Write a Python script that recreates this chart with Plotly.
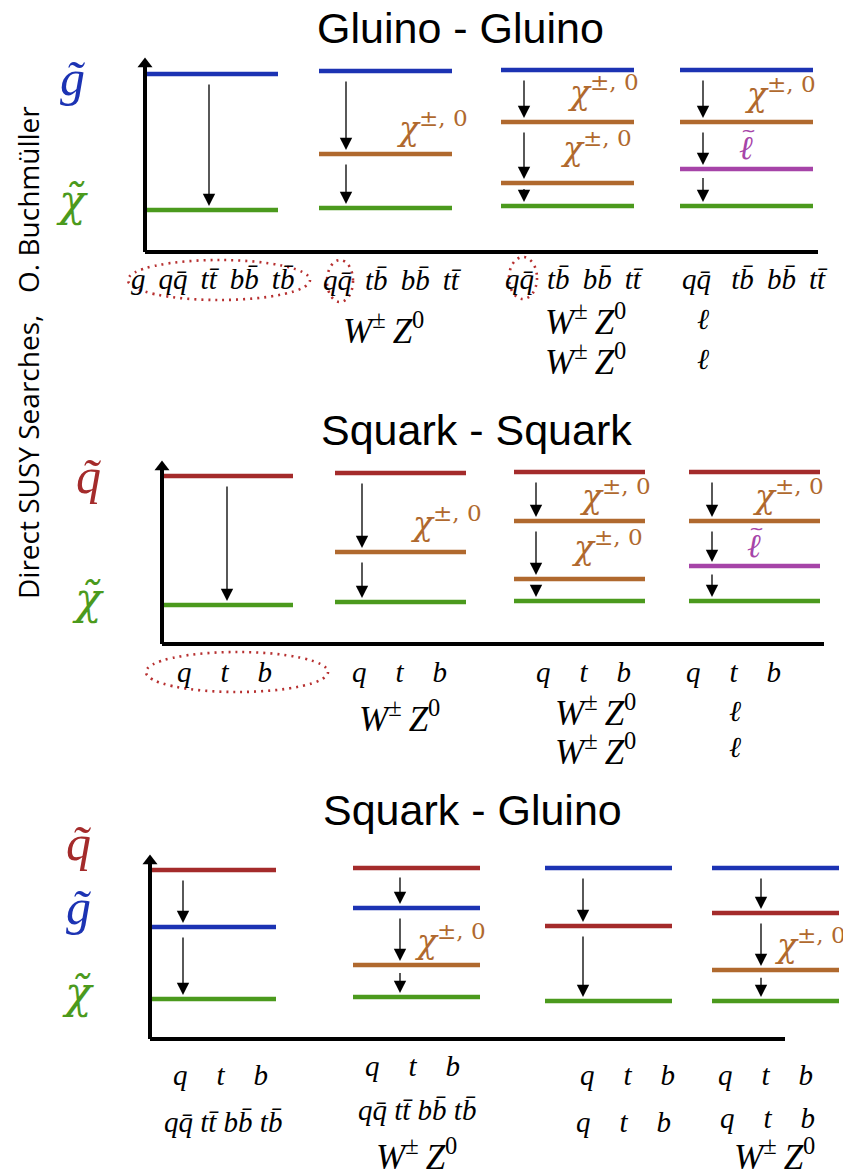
import plotly.graph_objects as go

W, H = 843, 1175

# ---------------- data ----------------
panel_titles = ["Gluino - Gluino", "Squark - Squark", "Squark - Gluino"]

# states in each decay-chain column (top -> bottom) and their mass level
# (height above the panel's horizontal axis, arbitrary units)
gg_states = [["gluino", "lsp"],
             ["gluino", "chi", "lsp"],
             ["gluino", "chi", "chi", "lsp"],
             ["gluino", "chi", "slepton", "lsp"]]
gg_masses = [[178, 42], [181, 98, 44], [182, 130, 69, 46], [182, 130, 83, 46]]

sq_states = [["squark", "lsp"],
             ["squark", "chi", "lsp"],
             ["squark", "chi", "chi", "lsp"],
             ["squark", "chi", "slepton", "lsp"]]
sq_masses = [[168, 39], [171, 92, 42], [172, 123, 65, 43], [172, 123, 78, 43]]

sg_states = [["squark", "gluino", "lsp"],
             ["squark", "gluino", "chi", "lsp"],
             ["gluino", "squark", "lsp"],
             ["gluino", "squark", "chi", "lsp"]]
sg_masses = [[169, 112, 40], [171, 131, 74, 42], [171, 113, 38], [171, 126, 69, 38]]

# axis particle labels per panel
gg_axis_labels = ["gluino", "lsp"]
sq_axis_labels = ["squark", "lsp"]
sg_axis_labels = ["squark", "gluino", "lsp"]

# final-state text under every column
Q, T, B = "q\u0304", "t\u0304", "b\u0304"
S = " \u2009"
WZ = "WZ"
gg_final = [[f"g{S}q{Q}{S}t{T}{S}b{B}{S}t{B}"],
            [f"q{Q}{S}t{B}{S}b{B}{S}t{T}", WZ],
            [f"q{Q}{S}t{B}{S}b{B}{S}t{T}", WZ, WZ],
            [f"q{Q}{S} t{B}{S}b{B}{S}t{T}", "ℓ", "ℓ"]]
sq_final = [["q    t    b"],
            ["q    t    b", WZ],
            ["q    t    b", WZ, WZ],
            ["q    t    b", "ℓ", "ℓ"]]
sg_final = [["q    t    b", f"q{Q} t{T} b{B} t{B}"],
            ["q    t    b", f"q{Q} t{T} b{B} t{B}", WZ],
            ["q    t    b", "q    t    b"],
            ["q    t    b", "q    t    b", WZ]]

# ---------------- styles ----------------
COL = {"gluino": "#1c33b3", "squark": "#a42b2b", "chi": "#b0692e",
       "slepton": "#a644a8", "lsp": "#4b9a1d"}
SYM = {"gluino": "<i>g\u0303</i>", "squark": "<i>q\u0303</i>", "lsp": "<i>χ\u0303</i>",
       "chi": "<i>χ</i><sup>±, 0</sup>", "slepton": "<i>ℓ</i>"}
SYM_FONT = {"gluino": "Liberation Serif", "squark": "Liberation Serif",
            "lsp": "DejaVu Serif", "chi": "DejaVu Serif", "slepton": "DejaVu Serif"}
SYM_SIZE = {"gluino": 50, "squark": 50, "lsp": 44}
SERIF = "Liberation Serif"
WZ_HTML = "<i>W</i><sup>±</sup>\u2009<i>Z</i><sup>0</sup>"

panels = [
    dict(title=panel_titles[0], states=gg_states, masses=gg_masses, final=gg_final,
         axis_labels=gg_axis_labels, base=252, px0=0, px1=390,
         yaxis_x=145, yaxis_top=57, xaxis_end=818, title_pos=(460, 28),
         col_left=[145, 319, 501, 680], col_w=133, arrow_x=[209, 346, 524, 703],
         label_pos=[(72, 78), (72, 200)],
         level_labels=[(1, 1, 432, 126), (2, 1, 603, 90), (2, 2, 596, 146),
                       (3, 1, 780, 92), (3, 2, 746, 147)],
         final_pos=[[(212, 279)], [(392, 280), (383, 328)],
                    [(574, 279), (585, 319), (585, 359)],
                    [(755, 279), (703, 319), (703, 359)]],
         ellipses=[(219, 280, 91, 20), (340, 281, 13, 21), (523, 278, 14, 21)]),
    dict(title=panel_titles[1], states=sq_states, masses=sq_masses, final=sq_final,
         axis_labels=sq_axis_labels, base=644, px0=390, px1=790,
         yaxis_x=162, yaxis_top=460, xaxis_end=824, title_pos=(476, 430),
         col_left=[162, 335, 514, 689], col_w=131, arrow_x=[227, 362, 536, 712],
         label_pos=[(88, 476), (88, 598)],
         level_labels=[(1, 1, 446, 521), (2, 1, 615, 494), (2, 2, 607, 545),
                       (3, 1, 788, 494), (3, 2, 754, 545)],
         final_pos=[[(224, 672)], [(399, 672), (399, 716)],
                    [(583, 672), (595, 710), (595, 749)],
                    [(733, 672), (735, 711), (735, 747)]],
         ellipses=[(237, 672, 91, 20)]),
    dict(title=panel_titles[2], states=sg_states, masses=sg_masses, final=sg_final,
         axis_labels=sg_axis_labels, base=1039, px0=790, px1=1175,
         yaxis_x=150, yaxis_top=854, xaxis_end=785, title_pos=(472, 810),
         col_left=[149, 353, 545, 712], col_w=127, arrow_x=[183, 400, 583, 761],
         label_pos=[(78, 843), (78, 907), (78, 992)],
         level_labels=[(1, 2, 450, 939), (3, 2, 810, 943)],
         final_pos=[[(220, 1075), (223, 1122)],
                    [(412, 1066), (417, 1110), (416, 1154)],
                    [(627, 1075), (623, 1122)],
                    [(765, 1075), (767, 1118), (774, 1154)]],
         ellipses=[]),
]

fig = go.Figure()
layout_axes = {}

for p_i, p in enumerate(panels):
    yname = "y" if p_i == 0 else f"y{p_i + 1}"
    ykey = "yaxis" if p_i == 0 else f"yaxis{p_i + 1}"
    base = p["base"]
    layout_axes[ykey] = dict(domain=[1 - p["px1"] / H, 1 - p["px0"] / H],
                             range=[base - p["px1"], base - p["px0"]],
                             visible=False, fixedrange=True, anchor="x")

    def v(py, base=base):
        return base - py

    # mass level lines, one trace per particle colour
    segs = {}
    for c, (sts, ms) in enumerate(zip(p["states"], p["masses"])):
        x0 = p["col_left"][c]
        for st, m in zip(sts, ms):
            xs, ys = segs.setdefault(st, ([], []))
            xs += [x0, x0 + p["col_w"], None]
            ys += [m, m, None]
    for st, (xs, ys) in segs.items():
        fig.add_trace(go.Scatter(x=xs, y=ys, xaxis="x", yaxis=yname, mode="lines",
                                 line=dict(color=COL[st], width=4.5),
                                 hoverinfo="skip", showlegend=False))

    # decay arrows
    for c, ms in enumerate(p["masses"]):
        xa = p["arrow_x"][c]
        for up, lo in zip(ms[:-1], ms[1:]):
            gap = min(9, (up - lo) * 0.2)
            fig.add_annotation(x=xa, y=lo + 4, ax=xa, ay=up - gap, xref="x", yref=yname,
                               axref="x", ayref=yname, text="", showarrow=True,
                               arrowhead=2, arrowsize=1.9, arrowwidth=1.3,
                               arrowcolor="black")

    # panel axes
    fig.add_shape(type="line", xref="x", yref=yname, x0=p["yaxis_x"], x1=p["xaxis_end"],
                  y0=0, y1=0, line=dict(color="black", width=4))
    fig.add_shape(type="line", xref="x", yref=yname, x0=p["yaxis_x"], x1=p["yaxis_x"],
                  y0=0, y1=v(p["yaxis_top"]) - 8, line=dict(color="black", width=4))
    fig.add_trace(go.Scatter(x=[p["yaxis_x"]], y=[v(p["yaxis_top"]) - 7], xaxis="x", yaxis=yname,
                             mode="markers", marker=dict(symbol="triangle-up", size=13, color="black"),
                             hoverinfo="skip", showlegend=False))

    # title
    fig.add_annotation(x=p["title_pos"][0], y=v(p["title_pos"][1]), xref="x", yref=yname,
                       text=p["title"], showarrow=False,
                       font=dict(family="Liberation Sans", size=43, color="black"))

    # particle labels on the left
    for st, (lx, ly) in zip(p["axis_labels"], p["label_pos"]):
        fig.add_annotation(x=lx, y=v(ly), xref="x", yref=yname, text=SYM[st],
                           showarrow=False,
                           font=dict(family=SYM_FONT[st], size=SYM_SIZE[st], color=COL[st]))

    # intermediate-state labels
    for c, li, lx, ly in p["level_labels"]:
        st = p["states"][c][li]
        fig.add_annotation(x=lx, y=v(ly), xref="x", yref=yname,
                           text=SYM[st], showarrow=False,
                           font=dict(family=SYM_FONT[st], size=33, color=COL[st]))
        if st == "slepton":   # tilde accent above the slepton symbol
            fig.add_annotation(x=lx + 2, y=v(ly) + 17, xref="x", yref=yname,
                               text="~", showarrow=False,
                               font=dict(family="DejaVu Sans", size=18, color=COL[st]))

    # final states
    for rows, poss in zip(p["final"], p["final_pos"]):
        for txt, (fx, fy) in zip(rows, poss):
            if txt == WZ:
                fig.add_annotation(x=fx, y=v(fy), xref="x", yref=yname,
                                   text=WZ_HTML, showarrow=False,
                                   font=dict(family=SERIF, size=35, color="black"))
            else:
                fig.add_annotation(x=fx, y=v(fy), xref="x", yref=yname,
                                   text=f"<i>{txt}</i>", showarrow=False,
                                   font=dict(family=SERIF, size=29, color="black"))

    # dotted ellipses
    for ex, ey, rx, ry in p["ellipses"]:
        fig.add_shape(type="circle", xref="x", yref=yname, x0=ex - rx, x1=ex + rx,
                      y0=v(ey) - ry, y1=v(ey) + ry,
                      line=dict(color="#b73030", width=2.6, dash="2px,5px"))

# vertical credit text
fig.add_annotation(x=28 / W, y=1 - 353 / H, xref="paper", yref="paper",
                   xanchor="center", yanchor="middle",
                   text="Direct SUSY Searches,\u00a0\u00a0\u00a0O. Buchmüller",
                   textangle=-90, showarrow=False,
                   font=dict(family="Open Sans", size=28, color="black"))

fig.update_layout(width=W, height=H, margin=dict(l=0, r=0, t=0, b=0),
                  paper_bgcolor="white", plot_bgcolor="white", showlegend=False,
                  xaxis=dict(range=[0, W], domain=[0, 1], visible=False, fixedrange=True),
                  **layout_axes)

fig.write_html("out.html")
